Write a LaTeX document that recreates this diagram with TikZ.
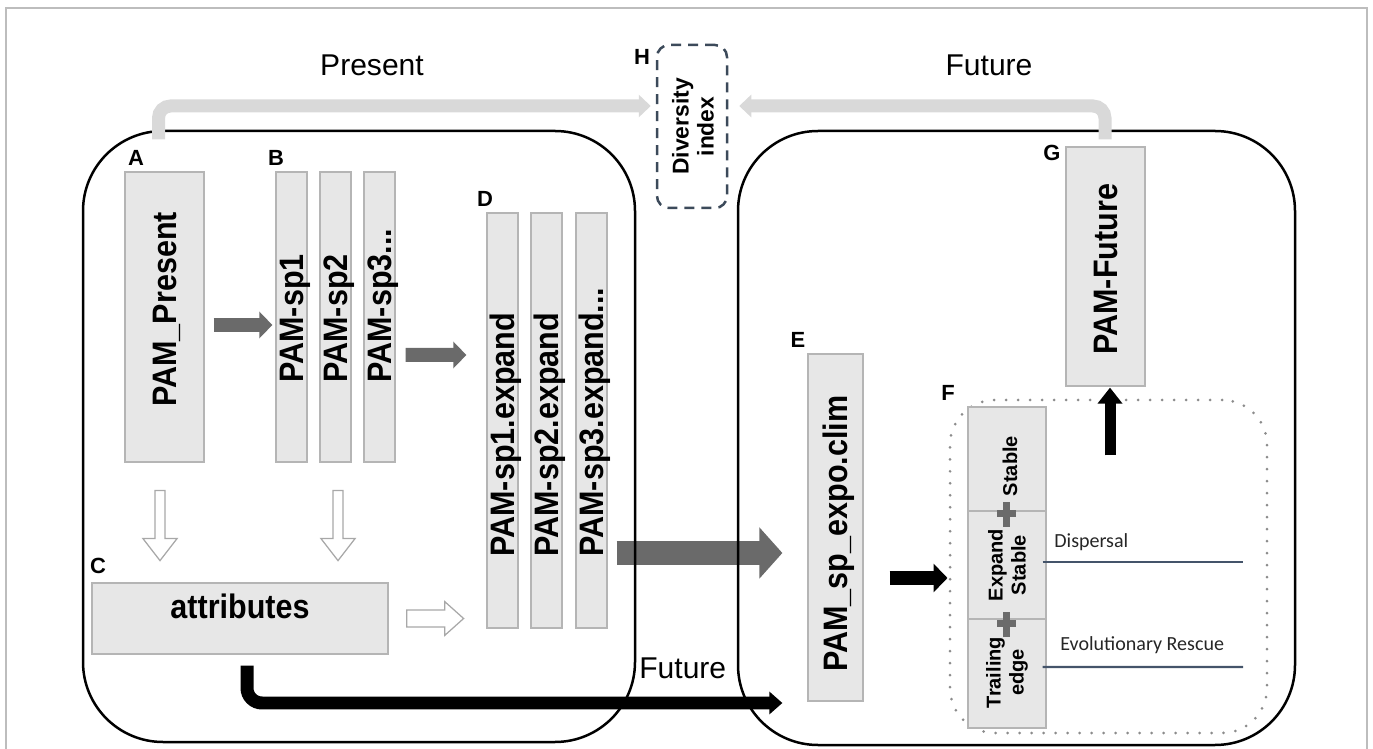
\documentclass[tikz,border=0pt]{standalone}
\usepackage{fontspec}
\setmainfont{Liberation Sans}
\newfontfamily\boxfont[FakeStretch=0.9]{Liberation Sans}
\newfontfamily\calfont{Carlito}
\usetikzlibrary{arrows.meta,fit,calc}

\definecolor{boxfill}{HTML}{E7E7E7}
\definecolor{boxline}{HTML}{B5B5B5}
\definecolor{darkgrey}{HTML}{6A6A6A}
\definecolor{lightgrey}{HTML}{D9D9D9}
\definecolor{openline}{HTML}{A8A8A8}
\definecolor{plusgrey}{HTML}{6B6B6B}
\definecolor{slate}{HTML}{44546A}
\definecolor{dashcol}{HTML}{3C4A5A}
\definecolor{dotcol}{HTML}{8C8C8C}
\definecolor{framecol}{HTML}{BDBDBD}

\begin{document}
\begin{tikzpicture}[x=0.02cm,y=-0.02cm,
  pambox/.style={draw=boxline,fill=boxfill,line width=0.025cm,inner sep=0pt},
  panel/.style={draw=black,line width=0.05cm,rounded corners=1.6cm,inner sep=0pt},
  vtext/.style={rotate=90,anchor=west,inner sep=0pt,text height=13.8pt,text depth=0pt,
    font=\boxfont\bfseries\fontsize{19.3}{22}\selectfont},
  stacktext/.style={rotate=90,align=center,inner sep=0pt,
    font=\bfseries\fontsize{11.4}{13.1}\selectfont},
  tag/.style={inner sep=0pt,font=\bfseries\fontsize{12.5}{14}\selectfont},
  title/.style={inner sep=0pt,anchor=base,font=\fontsize{17.1}{20}\selectfont},
  note/.style={inner sep=0pt,anchor=base west,text=black!85,font=\calfont\fontsize{11.4}{13}\selectfont},
  darkarr/.style={draw=darkgrey,line width=0.28cm,-{Triangle[length=0.26cm,width=0.52cm]}},
  bigarr/.style={draw=darkgrey,line width=0.48cm,-{Triangle[length=0.46cm,width=1.0cm]}},
  blackarr/.style={draw=black,line width=0.28cm,-{Triangle[length=0.28cm,width=0.56cm]}},
  uparr/.style={draw=black,line width=0.22cm,-{Triangle[length=0.32cm,width=0.48cm]}},
  longarr/.style={draw=black,line width=0.26cm,rounded corners=0.3cm,-{Triangle[length=0.26cm,width=0.44cm]}},
  lightarr/.style={draw=lightgrey,line width=0.26cm,rounded corners=0.24cm,-{Triangle[length=0.24cm,width=0.44cm]}},
  openarr/.style={draw=openline,fill=white,line width=0.025cm,line join=miter},
  slateline/.style={draw=slate,line width=0.045cm},
]
\useasboundingbox (0,0) rectangle (1373,749);

% outer frame
\draw[framecol,line width=0.03cm] (6,760) -- (6,8) -- (1367,8) -- (1367,760);

% present-day matrices
\node[pambox,fit={(125,172) (204,462)}] (A) {};
\node[pambox,fit={(276,172) (307,462)}] (B1) {};
\node[pambox,fit={(320,172) (351,462)}] (B2) {};
\node[pambox,fit={(364,172) (395,462)}] (B3) {};
\node[pambox,fit={(487,213) (518,628)}] (D1) {};
\node[pambox,fit={(531,213) (562,628)}] (D2) {};
\node[pambox,fit={(576,213) (607,628)}] (D3) {};
\node[pambox,fit={(92,583) (388,654)},font=\boxfont\bfseries\fontsize{19.3}{22}\selectfont] (C) {attributes};

\node[vtext] (At)  at ([shift={(0,90)}]A.center)    {PAM\_Present};
\node[vtext] (B1t) at ([shift={(0,66)}]B1.center)   {PAM-sp1};
\node[vtext] (B2t) at ([shift={(0,66)}]B2.center)   {PAM-sp2};
\node[vtext] (B3t) at ([shift={(0,66)}]B3.center)   {PAM-sp3...};
\node[vtext] (D1t) at ([shift={(0,136.5)}]D1.center) {PAM-sp1.expand};
\node[vtext] (D2t) at ([shift={(0,136.5)}]D2.center) {PAM-sp2.expand};
\node[vtext] (D3t) at ([shift={(0,136.5)}]D3.center) {PAM-sp3.expand...};

% future-side matrices
\node[pambox,fit={(808,354) (863,701)}] (E) {};
\node[vtext] (Et) at ([shift={(0,144.5)}]E.center) {PAM\_sp\_expo.clim};
\node[pambox,fit={(1066,147) (1145,386)}] (G) {};
\node[vtext] (Gt) at ([shift={(0,88.5)}]G.center) {PAM-Future};

% diversity index
\node[draw=dashcol,line width=0.05cm,dash pattern=on 0.2cm off 0.14cm,rounded corners=0.24cm,
  inner sep=0pt,fit={(657,45) (727,208)}] (H) {};
\node[rotate=90,align=center,inner sep=0pt,font=\bfseries\fontsize{13}{14.2}\selectfont] (Ht)
  at ([shift={(1,0)}]H.center) {Diversity\\index};

% range-change region
\node[draw=dotcol,line width=0.06cm,dash pattern=on 0pt off 0.24cm,line cap=round,
  rounded corners=0.9cm,inner sep=0pt,fit={(950,400) (1267,733)}] (Freg) {};
\node[pambox,fit={(968,407) (1046,511)}] (F1) {};
\node[pambox,fit={(968,511) (1046,619)}] (F2) {};
\node[pambox,fit={(968,619) (1046,728)}] (F3) {};
\node[stacktext] (F1t) at ([shift={(3,7)}]F1.center) {Stable};
\node[stacktext] (F2t) at (F2.center) {Expand\\Stable};
\node[stacktext] (F3t) at ([shift={(0,-1)}]F3.center) {Trailing\\edge};
\fill[plusgrey] (997,510) rectangle (1016,517);
\fill[plusgrey] (1003,502) rectangle (1010,527);
\fill[plusgrey] (997,620) rectangle (1016,627);
\fill[plusgrey] (1003,612) rectangle (1010,637);

\coordinate (dispEnd) at (1243,562);
\coordinate (evoEnd) at (1243,667);
\draw[slateline] ([shift={(-4,-3)}]F2.east) -- (dispEnd);
\draw[slateline] ([shift={(-4,-6.5)}]F3.east) -- (evoEnd);
\node[note] (disp) at (1054,548) {Dispersal};
\node[note] (evo) at (1060,650) {Evolutionary Rescue};

% matrices feeding the climate projection
\draw[bigarr] ([shift={(9,132.5)}]D3.east) -- ([shift={(-25,25.5)}]E.west);

% the two scenario panels
\node[panel,fit={(83,131) (635,742)}] (left) {};
\node[panel,fit={(738,131) (1295,745)}] (right) {};

% titles
\node[title] (present) at (372,76) {Present};
\node[title] (future) at (989,76) {Future};
\node[title,anchor=base west] (future2) at (639,679) {Future};

% tags
\node[tag] (la) at (136,158) {A};
\node[tag] (lb) at (276,158) {B};
\node[tag] (lc) at (98,566) {C};
\node[tag] (ld) at (485,199) {D};
\node[tag] (le) at (798,340) {E};
\node[tag] (lf) at (948,393) {F};
\node[tag] (lg) at (1052,153) {G};
\node[tag] (lh) at (642,57) {H};

% process arrows
\draw[darkarr] ([shift={(9,8)}]A.east) -- ([shift={(-3,8)}]B1.west);
\draw[darkarr] ([shift={(10,38)}]B3.east) -- ([shift={(-20,-65.5)}]D1.west);
\draw[blackarr] ([shift={(26,50.5)}]E.east) -- ([shift={(-1,11.5)}]Freg.west);
\draw[uparr] ([shift={(1.5,57)}]Freg.north) -- ([shift={(4.5,1)}]G.south);
\draw[longarr] ([shift={(7,11)}]C.south) |- ([shift={(-25,175.5)}]E.west);
\draw[lightarr] ([shift={(-6,-32)}]A.north) |- ([shift={(-5,-20.5)}]H.west);
\draw[lightarr] ([shift={(-0.5,-7)}]G.north) |- ([shift={(11,-20.5)}]H.east);

% open arrows towards the attribute table and the expanded matrices
\coordinate (oa1) at ([shift={(-4.5,28)}]A.south);
\coordinate (oa2) at ([shift={(2.5,28)}]B2.south);
\coordinate (oa3) at ([shift={(18,0)}]C.east);
\draw[openarr] ([shift={(-5,0)}]oa1) -- ++(10,0) -- ++(0,48) -- ++(12,0) -- ++(-17,22)
  -- ++(-17,-22) -- ++(12,0) -- cycle;
\draw[openarr] ([shift={(-5,0)}]oa2) -- ++(10,0) -- ++(0,48) -- ++(12,0) -- ++(-17,22)
  -- ++(-17,-22) -- ++(12,0) -- cycle;
\draw[openarr] ([shift={(0,-8.5)}]oa3) -- ++(38,0) -- ++(0,-8.5) -- ++(19,17) -- ++(-19,17)
  -- ++(0,-8.5) -- ++(-38,0) -- cycle;
\end{tikzpicture}
\end{document}
